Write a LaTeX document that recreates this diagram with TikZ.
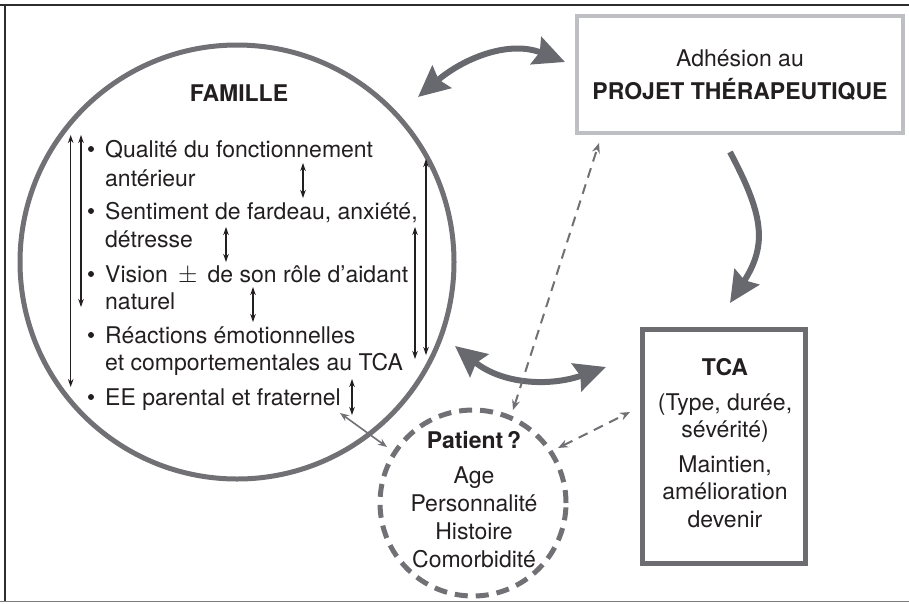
\documentclass[tikz,border=0pt]{standalone}
\usepackage{fontspec}
\setmainfont{TeX Gyre Heros}
\usetikzlibrary{arrows.meta}
\definecolor{txt}{RGB}{35,31,32}
\definecolor{famc}{RGB}{112,112,117}
\definecolor{projc}{RGB}{190,191,194}
\definecolor{tcac}{RGB}{108,108,113}
\definecolor{arrc}{RGB}{104,105,110}
\definecolor{dashc}{RGB}{112,112,117}
\definecolor{framec}{RGB}{45,45,45}
\definecolor{framegray}{RGB}{125,125,128}
\begin{document}
\begin{tikzpicture}[x=1pt,y=-1pt,
  lbl/.style={inner sep=0pt, text=txt, font=\fontsize{23}{28}\selectfont},
  lw/.style={lbl, anchor=base west},
  lc/.style={lbl, anchor=base},
  lb/.style={lbl, anchor=base, font=\fontsize{23}{28}\selectfont\bfseries},
  bulletdot/.style={circle, fill=txt, inner sep=0pt, minimum size=6pt},
  thickarr/.style={draw=arrc, line width=6pt, >={Stealth[length=31pt,width=29pt,inset=4pt]}},
  thinarr/.style={draw=txt, line width=1.1pt, <->, >={Stealth[length=8pt,width=5.5pt]}},
  dasharr/.style={draw=dashc, line width=2pt, dash pattern=on 10pt off 7pt, <->, >={Stealth[length=10pt,width=8pt]}},
  grayarr/.style={draw=dashc, line width=1.6pt, <->, >={Stealth[length=9pt,width=7pt]}}]
\useasboundingbox (0,0) rectangle (909,603);
% frame
\draw[line width=2pt, draw=framec] (0,4.5) -- (909,4.5);
\draw[line width=2pt, draw=framec] (4.5,4) -- (4.5,601);
\draw[line width=1.5pt, draw=framegray] (0,601.5) -- (909,601.5);
% FAMILLE circle
\node[circle, draw=famc, line width=5pt, minimum size=434pt, inner sep=0pt] (famille) at (237,262) {};
\node[lb] (famT) at (239,101) {FAMILLE};
\foreach \y/\n in {157/1,219/2,282/3,343/4,405/5} {\node[bulletdot] (bul\n) at (91,\y-8) {};}
\node[lw] (l1a) at (105,157) {Qualité du fonctionnement};
\node[lw] (l1b) at (105,186) {antérieur};
\node[lw] (l2a) at (105,219) {Sentiment de fardeau, anxiété,};
\node[lw] (l2b) at (105,247) {détresse};
\node[lw] (l3a) at (105,282) {Vision \,{\fontsize{27}{28}\selectfont$\pm$}\, de son rôle d’aidant};
\node[lw] (l3b) at (105,309) {naturel};
\node[lw] (l4a) at (105,343) {Réactions émotionnelles};
\node[lw] (l4b) at (105,370) {et comportementales au TCA};
\node[lw] (l5a) at (105,405) {EE parental et fraternel};
% PROJET box
\node[draw=projc, line width=4pt, minimum width=326pt, minimum height=117pt, inner sep=0pt] (projet) at (740,74.5) {};
\node[lc] (p1) at (740,66) {Adhésion au};
\node[lb] (p2) at (740,99) {PROJET THÉRAPEUTIQUE};
% TCA box
\node[draw=tcac, line width=5pt, minimum width=163pt, minimum height=234pt, inner sep=0pt] (tca) at (724,446.5) {};
\node[lb] (t1) at (725,375) {TCA};
\node[lc] (t2) at (725,410) {(Type, durée,};
\node[lc] (t3) at (725,437) {sévérité)};
\node[lc] (t4) at (725,472) {Maintien,};
\node[lc] (t5) at (725,499) {amélioration};
\node[lc] (t6) at (725,527) {devenir};
% Patient circle
\node[circle, draw=dashc, line width=5pt, dash pattern=on 13pt off 8pt, minimum size=186pt, inner sep=0pt] (patient) at (473,503) {};
\node[lb] (pa1) at (474,448) {Patient\,?};
\node[lc] (pa2) at (474,483) {Age};
\node[lc] (pa3) at (474,511) {Personnalité};
\node[lc] (pa4) at (474,539) {Histoire};
\node[lc] (pa5) at (474,567) {Comorbidité};
% thick arrows
\coordinate (e1a) at (418,97); \coordinate (e1b) at (565,62);
\draw[thickarr,<->] (e1a) .. controls (464,58) and (509,40) .. (e1b);
\coordinate (e2a) at (730,152); \coordinate (e2b) at (730,303);
\draw[thickarr,->] (e2a) .. controls (763,214) and (768,244) .. (e2b);
\coordinate (e3a) at (455,346); \coordinate (e3b) at (606,367);
\draw[thickarr,<->] (e3a) .. controls (502,384) and (549,387) .. (e3b);
% thin black arrows
\coordinate (a1t) at (70.7,135); \coordinate (a1b) at (70.7,387);
\coordinate (a2t) at (81,135);   \coordinate (a2b) at (81,307);
\coordinate (a3t) at (303,163);  \coordinate (a3b) at (303,198);
\coordinate (a4t) at (226,227);  \coordinate (a4b) at (226,262);
\coordinate (a5t) at (253,287);  \coordinate (a5b) at (253,322);
\coordinate (a6t) at (352,379);  \coordinate (a6b) at (352,415);
\coordinate (a7t) at (426,159);  \coordinate (a7b) at (426,355);
\coordinate (a8t) at (415,227);  \coordinate (a8b) at (415,359);
\foreach \n in {1,...,8} {\draw[thinarr] (a\n t) -- (a\n b);}
% dashed arrows
\coordinate (d1a) at (513,410); \coordinate (d1b) at (599,143);
\draw[dasharr] (d1a) -- (d1b);
\coordinate (d2a) at (558,448); \coordinate (d2b) at (630,412);
\draw[dasharr] (d2a) -- (d2b);
\coordinate (g1a) at (340,413); \coordinate (g1b) at (387,447);
\draw[grayarr] (g1a) -- (g1b);
\end{tikzpicture}
\end{document}
